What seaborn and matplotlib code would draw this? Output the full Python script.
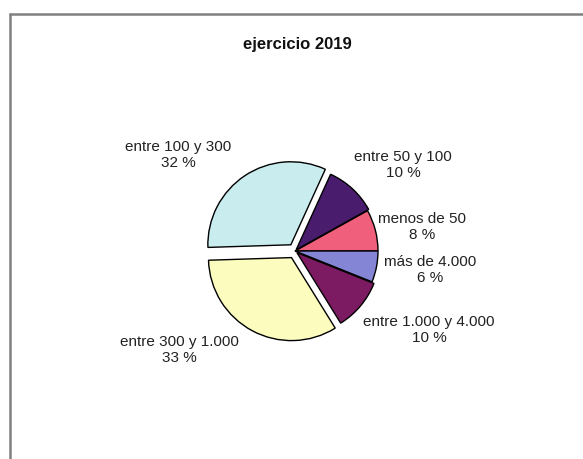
import matplotlib
matplotlib.use("Agg")
import matplotlib.pyplot as plt
from matplotlib.lines import Line2D
import seaborn as sns

sns.set_theme(style="white")
plt.rcParams["font.family"] = ["Liberation Sans", "DejaVu Sans"]

# Data, counterclockwise from 3 o'clock
labels = ["menos de 50", "entre 50 y 100", "entre 100 y 300",
          "entre 300 y 1.000", "entre 1.000 y 4.000", "más de 4.000"]
shares = [8, 10, 32, 33, 10, 6]
colors = ["#f0607c", "#4a1c6e", "#c9ecee", "#fcfcbe", "#7c1a62", "#8585d6"]
explode = [0.0, 0.02, 0.09, 0.09, 0.03, 0.0]

# Label placement (pixel coords, y from top)
label_pos = [(422, 227), (403, 165), (178, 155), (179, 350), (429, 330), (430, 270)]

W, H = 583, 459
R = 83
fig = plt.figure(figsize=(W / 100, H / 100), dpi=100)
ax = fig.add_axes([0, 0, 1, 1])

# explode is in data units, so scale by radius
ax.pie(
    shares, colors=colors, explode=[e * R for e in explode], startangle=0,
    counterclock=True, center=(295, H - 251), radius=R, frame=True,
    wedgeprops={"edgecolor": "black", "linewidth": 1},
)
ax.set_xlim(0, W)
ax.set_ylim(0, H)
ax.set_axis_off()

for lab, val, (x, y) in zip(labels, shares, label_pos):
    ax.text(x, H - y, f"{lab}\n{val} %", ha="center", va="center",
            fontsize=11, color="#222222", linespacing=1.1)

ax.text(297, H - 44, "ejercicio 2019", ha="center", va="center",
        fontsize=12, fontweight="bold", color="#111111")

# Frame lines (top and left only, as in the source)
fig.add_artist(Line2D([10 / W, 1], [1 - 14 / H, 1 - 14 / H],
                      transform=fig.transFigure, color="#808080", lw=1.8))
fig.add_artist(Line2D([10 / W, 10 / W], [0, 1 - 14 / H],
                      transform=fig.transFigure, color="#808080", lw=1.8))

fig.savefig("out.png", dpi=100, facecolor="white")
